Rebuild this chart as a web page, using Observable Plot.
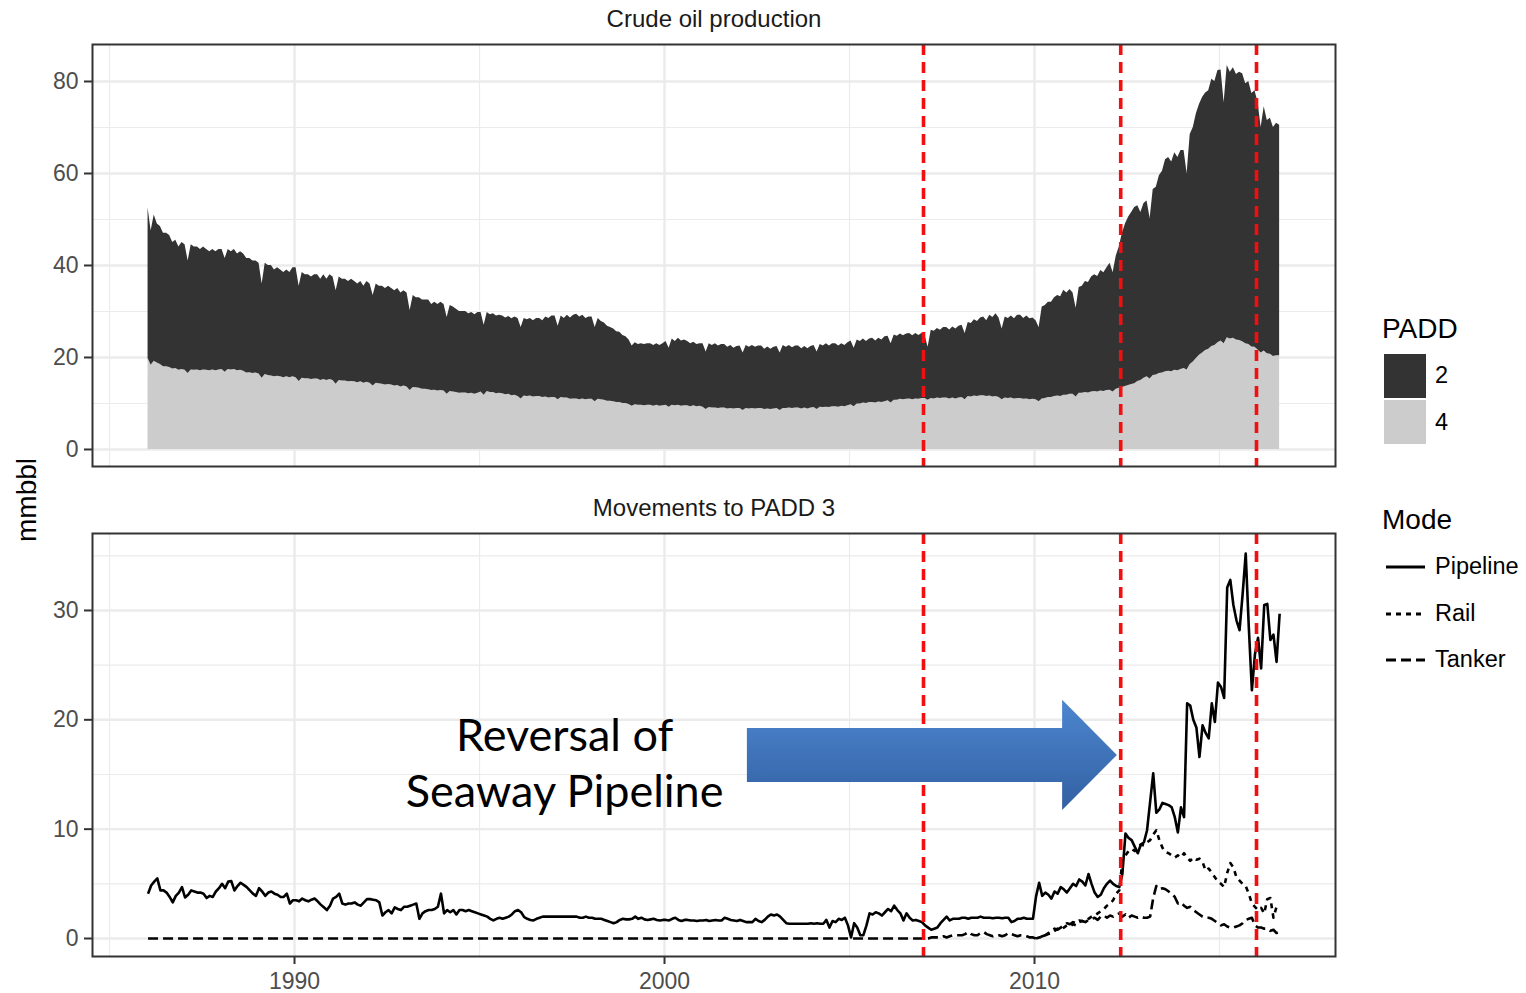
<!DOCTYPE html>
<html><head><meta charset="utf-8">
<script src="https://cdn.jsdelivr.net/npm/d3@7"></script>
<script src="https://cdn.jsdelivr.net/npm/@observablehq/plot@0.6"></script>
<style>
html,body{margin:0;padding:0;background:#fff;}
#wrap{position:relative;width:1526px;height:993px;overflow:hidden;font-family:"Liberation Sans",Arial,sans-serif;}
#wrap svg{position:absolute;left:0;}
.t{position:absolute;line-height:1;white-space:nowrap;color:#000;}
</style></head><body><div id="wrap"></div>
<script>
// ---------- data (monthly, starting Jan 1986) ----------
const startYear = 1986;
const padd2 = [
/*1986*/32.7,29.2,31.8,30.2,30.0,29.0,29.0,28.7,27.5,27.9,26.8,27.6,
/*1987*/27.3,24.5,27.2,26.8,26.7,26.4,26.7,26.3,25.9,26.2,25.9,26.2,
/*1988*/26.1,24.7,26.1,25.7,26.1,25.4,25.8,25.5,24.9,24.8,24.5,24.4,
/*1989*/24.1,20.5,24.2,23.9,24.0,23.2,23.6,23.2,22.9,23.2,22.9,23.7,
/*1990*/23.9,20.7,23.0,22.6,22.6,22.3,22.7,22.7,22.0,22.8,22.0,22.8,
/*1991*/22.5,20.3,22.5,22.1,22.1,21.8,22.2,21.8,21.5,21.8,21.1,21.9,
/*1992*/21.6,19.7,21.6,21.2,21.3,21.0,21.4,21.0,20.7,21.1,20.4,20.7,
/*1993*/20.4,17.4,20.0,19.6,19.7,19.4,19.4,19.5,18.7,19.1,18.8,19.2,
/*1994*/18.8,16.7,18.7,18.5,18.1,17.8,17.7,17.7,17.4,17.6,17.3,17.6,
/*1995*/17.3,15.2,17.2,16.9,17.1,16.9,17.0,16.9,16.7,16.9,16.7,17.0,
/*1996*/17.0,15.5,16.9,16.7,16.9,16.6,17.0,17.0,16.7,17.4,17.3,17.7,
/*1997*/17.7,16.0,17.7,17.3,18.0,17.7,18.2,18.4,18.0,18.2,17.7,17.9,
/*1998*/17.9,16.1,17.6,17.0,16.8,16.3,16.0,15.8,15.4,15.3,14.8,14.5,
/*1999*/14.0,13.1,13.5,13.2,13.4,13.3,13.4,13.4,13.2,13.4,13.2,13.5,
/*2000*/13.9,12.8,14.4,14.0,14.6,14.2,14.3,14.0,13.7,13.8,13.5,13.6,
/*2001*/13.8,12.5,13.9,13.6,14.0,13.6,13.8,13.8,13.4,13.7,13.2,13.5,
/*2002*/13.6,12.5,13.7,13.4,13.7,13.4,13.6,13.6,13.1,13.5,13.1,13.4,
/*2003*/13.5,12.5,13.7,13.3,13.6,13.2,13.5,13.5,13.1,13.4,13.1,13.4,
/*2004*/13.5,12.5,13.6,13.4,13.8,13.4,13.7,13.7,13.3,13.6,13.3,13.7,
/*2005*/13.9,12.7,13.9,13.6,13.9,13.5,13.8,14.0,13.5,13.9,13.6,14.1,
/*2006*/14.0,12.9,14.2,13.9,14.2,13.9,14.2,14.2,13.9,14.2,13.9,14.1,
/*2007*/13.7,11.5,14.8,14.7,15.1,14.8,15.3,15.3,15.0,15.4,15.2,15.6,
/*2008*/15.7,14.4,16.1,16.0,16.6,16.3,16.9,17.1,16.5,17.6,17.3,18.0,
/*2009*/17.3,15.4,17.6,17.4,17.8,17.4,18.1,18.1,17.6,18.0,17.6,17.7,
/*2010*/17.2,16.1,20.0,20.2,20.7,20.7,21.5,21.9,21.7,22.8,22.2,22.8,
/*2011*/22.0,19.3,23.0,23.3,24.1,24.0,25.0,25.4,25.1,26.2,25.8,26.7,
/*2012*/27.6,26.0,28.9,30.7,33.5,35.3,36.6,37.4,38.3,38.2,36.5,38.0,
/*2013*/38.2,34.9,40.4,40.8,43.0,43.9,46.1,46.5,45.6,47.3,46.4,47.6,
/*2014*/47.4,42.7,50.0,51.0,53.2,54.5,55.5,56.0,56.2,58.1,57.4,59.2,
/*2015*/58.9,52.4,59.2,58.0,58.8,57.7,58.3,58.3,56.5,57.2,55.1,55.8,
/*2016*/53.9,49.0,53.1,50.7,51.3,49.8,50.5,50.1
];
const padd4 = [
/*1986*/19.8,18.3,19.2,18.8,18.5,18.0,18.0,17.8,17.5,17.6,17.2,17.4,
/*1987*/17.2,16.5,17.3,17.2,17.3,17.1,17.3,17.2,17.1,17.3,17.1,17.3,
/*1988*/17.4,16.8,17.4,17.3,17.4,17.1,17.2,17.0,16.6,16.7,16.5,16.6,
/*1989*/16.4,15.5,16.3,16.1,16.0,15.8,15.9,15.8,15.6,15.8,15.6,15.8,
/*1990*/15.6,14.8,15.5,15.4,15.4,15.2,15.3,15.3,15.0,15.2,15.0,15.2,
/*1991*/15.0,14.2,15.0,14.9,14.9,14.7,14.8,14.7,14.5,14.7,14.4,14.6,
/*1992*/14.4,13.8,14.4,14.3,14.2,14.0,14.1,14.0,13.8,13.9,13.6,13.8,
/*1993*/13.6,12.8,13.5,13.4,13.3,13.1,13.1,13.0,12.8,12.9,12.7,12.8,
/*1994*/12.7,12.0,12.6,12.5,12.4,12.2,12.3,12.3,12.1,12.2,12.0,12.2,
/*1995*/12.5,11.8,12.6,12.4,12.4,12.1,12.2,12.1,11.9,12.0,11.7,11.8,
/*1996*/11.5,11.0,11.6,11.5,11.6,11.4,11.5,11.5,11.3,11.4,11.2,11.3,
/*1997*/11.3,10.8,11.3,11.2,11.2,10.9,11.0,11.0,10.8,11.0,10.8,10.9,
/*1998*/10.9,10.4,10.9,10.8,10.7,10.5,10.5,10.4,10.2,10.2,10.0,10.0,
/*1999*/9.8,9.4,9.7,9.6,9.6,9.5,9.6,9.6,9.4,9.6,9.4,9.5,
/*2000*/9.6,9.2,9.6,9.5,9.6,9.4,9.5,9.5,9.3,9.5,9.3,9.4,
/*2001*/9.2,8.7,9.1,9.0,9.0,8.9,9.0,9.0,8.8,8.9,8.8,8.9,
/*2002*/8.9,8.5,8.9,8.8,8.9,8.8,8.9,8.9,8.7,8.8,8.7,8.8,
/*2003*/8.9,8.5,8.9,8.9,9.0,8.9,9.0,9.0,8.8,9.0,8.8,9.0,
/*2004*/9.1,8.7,9.2,9.1,9.2,9.1,9.3,9.3,9.2,9.4,9.3,9.5,
/*2005*/9.7,9.3,9.9,9.9,10.1,10.0,10.2,10.2,10.1,10.3,10.2,10.4,
/*2006*/10.6,10.1,10.7,10.7,10.9,10.8,10.9,11.0,10.8,11.0,10.9,11.1,
/*2007*/11.1,10.7,11.1,11.0,11.2,11.1,11.2,11.2,11.0,11.2,11.0,11.2,
/*2008*/11.3,10.8,11.5,11.4,11.6,11.5,11.7,11.7,11.5,11.6,11.4,11.5,
/*2009*/11.3,10.8,11.2,11.1,11.2,11.0,11.1,11.1,10.9,11.0,10.8,10.9,
/*2010*/10.8,10.4,11.0,11.1,11.3,11.3,11.5,11.6,11.5,11.8,11.8,12.0,
/*2011*/12.0,11.4,12.2,12.2,12.4,12.3,12.5,12.6,12.5,12.7,12.6,12.8,
/*2012*/12.9,12.5,13.1,13.3,13.5,13.7,13.9,14.1,14.3,14.8,15.0,15.5,
/*2013*/15.8,15.3,16.1,16.2,16.5,16.6,16.9,17.0,16.9,17.2,17.1,17.4,
/*2014*/17.6,17.3,18.5,19.0,19.8,20.5,21.0,21.5,21.8,22.4,22.6,23.2,
/*2015*/23.6,23.0,24.3,24.0,24.2,23.8,23.7,23.4,23.0,22.8,22.3,22.2,
/*2016*/21.6,21.0,21.4,20.8,20.7,20.2,20.4,20.4
];
const pipeline = [
/*1986*/4.1,4.85,5.2,5.5,4.4,4.4,4.2,3.8,3.3,3.9,4.2,4.7,
/*1987*/3.75,4.0,4.4,4.3,4.2,4.2,4.1,3.7,3.9,3.8,4.3,4.6,
/*1988*/5.0,4.6,5.2,5.25,4.4,4.8,5.1,4.9,4.7,4.4,4.1,3.9,
/*1989*/4.6,4.3,3.9,4.2,4.3,4.1,4.0,3.8,3.8,4.1,3.2,3.5,
/*1990*/3.5,3.4,3.65,3.5,3.4,3.55,3.65,3.4,3.1,2.85,2.6,3.0,
/*1991*/3.65,3.8,4.1,3.2,3.1,3.2,3.2,3.3,3.1,3.0,3.3,3.6,
/*1992*/3.6,3.55,3.5,3.3,2.1,2.4,2.6,2.3,2.85,2.7,2.6,2.9,
/*1993*/2.9,3.0,3.1,3.2,1.8,2.3,2.5,2.6,2.6,2.7,2.9,4.1,
/*1994*/2.3,2.6,2.4,2.6,2.2,2.6,2.6,2.5,2.6,2.5,2.4,2.3,
/*1995*/2.2,2.1,2.0,1.8,1.65,1.8,1.9,1.8,1.9,2.0,2.2,2.5,
/*1996*/2.6,2.4,1.95,1.8,1.7,1.65,1.8,1.9,2.0,2.0,2.0,2.0,
/*1997*/2.0,2.0,2.0,2.0,2.0,2.0,2.0,2.0,1.9,1.9,2.0,1.9,
/*1998*/1.9,1.8,1.8,1.8,1.7,1.6,1.5,1.4,1.5,1.7,1.8,1.75,
/*1999*/1.75,1.8,2.0,1.8,1.9,1.75,1.7,1.75,1.8,1.7,1.65,1.7,
/*2000*/1.7,1.65,1.8,1.9,1.7,1.6,1.7,1.7,1.65,1.65,1.6,1.65,
/*2001*/1.65,1.7,1.6,1.65,1.7,1.65,1.65,1.9,1.8,1.7,1.65,1.6,
/*2002*/1.7,1.6,1.5,1.5,1.5,1.8,1.6,1.5,1.7,2.0,2.2,2.1,
/*2003*/2.2,2.0,1.7,1.4,1.35,1.35,1.35,1.35,1.35,1.35,1.35,1.4,
/*2004*/1.35,1.4,1.35,1.35,1.7,1.0,1.6,1.5,1.8,1.7,1.9,1.2,
/*2005*/0.1,1.4,1.0,0.3,0.3,1.2,2.3,2.2,2.4,2.3,2.1,2.4,
/*2006*/2.7,2.5,3.0,2.6,2.3,1.65,2.3,1.9,1.65,1.7,1.6,1.5,
/*2007*/1.2,1.0,0.8,0.9,1.0,1.4,1.7,2.0,1.65,1.8,1.8,1.8,
/*2008*/1.9,1.9,1.8,1.9,1.9,1.9,2.0,1.9,1.9,1.9,1.85,1.9,
/*2009*/1.9,1.85,1.9,1.9,1.5,1.6,1.8,1.8,1.9,1.8,1.8,1.8,
/*2010*/3.85,5.1,3.9,4.2,4.0,3.65,4.3,4.1,4.7,4.5,4.2,4.6,
/*2011*/5.0,4.8,5.4,5.2,4.85,5.9,5.0,4.2,3.8,4.0,4.6,5.0,
/*2012*/5.3,5.0,4.8,4.7,5.9,9.6,9.2,9.0,8.4,7.8,8.6,8.8,
/*2013*/9.9,12.5,15.1,11.5,11.8,12.4,12.3,12.2,12.0,11.1,9.7,12.0,
/*2014*/11.1,21.5,21.3,20.0,19.3,16.6,19.5,18.8,18.3,21.5,19.8,23.4,
/*2015*/23.0,22.0,32.1,32.8,30.5,29.1,28.2,31.5,35.2,28.5,22.7,26.0,
/*2016*/27.5,24.7,30.5,30.6,27.3,27.8,25.3,29.7
];
const railStart = 2010;
const rail = [
/*2010*/0.0,0.1,0.1,0.3,0.4,0.5,0.7,0.9,0.8,1.0,1.2,1.1,
/*2011*/1.3,1.2,1.5,1.6,1.5,1.8,2.0,2.1,2.3,2.5,2.7,3.0,
/*2012*/3.2,3.5,4.1,4.4,7.1,7.6,8.0,8.2,8.0,8.3,8.6,8.5,
/*2013*/8.8,9.0,9.5,9.9,9.0,8.3,7.9,7.8,7.6,7.4,7.6,7.4,
/*2014*/7.8,7.4,7.1,7.4,7.2,7.3,7.0,6.2,6.4,6.0,5.6,5.2,
/*2015*/5.0,4.7,6.0,6.9,6.5,5.6,5.3,5.0,4.8,4.1,3.2,2.9,
/*2016*/2.6,2.8,2.3,3.6,3.7,1.9,2.9,2.8
];
const tankerStart = 2007;      // zero from Jan 1986 until then
const tanker = [
/*2007*/0,0,0.1,0.1,0.1,0.1,0.2,0.1,0.2,0.3,0.3,0.3,
/*2008*/0.3,0.4,0.6,0.4,0.3,0.3,0.5,0.6,0.4,0.3,0.2,0.3,
/*2009*/0.3,0.2,0.3,0.5,0.4,0.3,0.2,0.3,0.3,0.2,0.1,0.1,
/*2010*/0.0,0.1,0.2,0.3,0.5,0.7,0.9,0.8,1.0,1.2,1.4,1.3,
/*2011*/1.5,1.4,1.65,1.6,1.5,1.7,1.8,1.9,1.7,2.0,2.1,1.9,
/*2012*/2.1,2.0,2.2,2.3,2.0,2.2,1.9,2.1,2.0,1.9,2.0,1.9,
/*2013*/1.9,2.0,3.7,4.8,4.5,4.6,4.5,4.3,4.1,3.8,3.2,3.3,
/*2014*/3.0,2.8,2.9,2.6,2.4,2.2,2.0,1.9,1.9,1.8,1.6,1.4,
/*2015*/1.2,1.3,1.1,1.0,1.0,1.1,1.2,1.4,1.7,1.8,1.9,1.2,
/*2016*/1.0,1.0,0.9,0.9,0.7,0.8,0.5,0.6
];
const events = [2007.0, 2012.33, 2016.0];
const facetTitles = ["Crude oil production", "Movements to PADD 3"];
const paddKeys = ["2", "4"];
const modeKeys = ["Pipeline", "Rail", "Tanker"];
const xTicks = [1990, 2000, 2010];
const xMinor = [1985, 1995, 2005, 2015];
const yTicksTop = [0, 20, 40, 60, 80];
const yMinorTop = [10, 30, 50, 70];
const yTicksBottom = [0, 10, 20, 30];
const yMinorBottom = [5, 15, 25, 35];
const yTitle = "mmbbl";
const annotationText = "Reversal of\nSeaway Pipeline";
// annotation anchor (years / mmbbl)
const noteAt = {x: 1997.3, y: 16.23};
const arrowGeom = {tail: 2002.24, neck: 2010.76, tip: 2012.24, shaftLo: 14.27, shaftHi: 19.2, headLo: 11.71, headHi: 21.78};

// ---------- tables ----------
const mt = (y0, i) => y0 + (i + 0.5) / 12;
const prod = [];
padd4.forEach((v, i) => prod.push({t: mt(startYear, i), padd: "4", v}));
padd2.forEach((v, i) => prod.push({t: mt(startYear, i), padd: "2", v}));
const pipeRows = pipeline.map((v, i) => ({t: mt(startYear, i), v}));
const railRows = rail.map((v, i) => ({t: mt(railStart, i), v}));
const tankerRows = [{t: mt(startYear, 0), v: 0}].concat(tanker.map((v, i) => ({t: mt(tankerStart, i), v})));
const midShaft = (arrowGeom.shaftLo + arrowGeom.shaftHi) / 2;
const arrowRows = [
  {x: arrowGeom.tail, lo: arrowGeom.shaftLo, hi: arrowGeom.shaftHi},
  {x: arrowGeom.neck, lo: arrowGeom.shaftLo, hi: arrowGeom.shaftHi},
  {x: arrowGeom.neck, lo: arrowGeom.headLo, hi: arrowGeom.headHi},
  {x: arrowGeom.tip, lo: midShaft, hi: midShaft}
];

// ---------- styles ----------
const W = 1526, ML = 92, MR = 1526 - 1335;
const xDomain = [1984.54, 2018.135];
const GRID = "#ebebeb", RED = "#f20f0f";
const FONT = "Liberation Sans, Arial, sans-serif";
const gridMarks = (yMajor, yMinor) => [
  Plot.gridX(xMinor, {stroke: GRID, strokeOpacity: 1, strokeWidth: 1.2}),
  Plot.gridY(yMinor, {stroke: GRID, strokeOpacity: 1, strokeWidth: 1.2}),
  Plot.gridX(xTicks, {stroke: GRID, strokeOpacity: 1, strokeWidth: 2.4}),
  Plot.gridY(yMajor, {stroke: GRID, strokeOpacity: 1, strokeWidth: 2.4})
];
const yAxis = (ticks) => Plot.axisY(ticks, {tickSize: 8, tickPadding: 6, fontSize: 23, fill: "#4d4d4d", stroke: "#333", strokeWidth: 2, label: null, tickFormat: d => String(d)});
const eventRules = Plot.ruleX(events, {stroke: RED, strokeWidth: 3.6, strokeDasharray: "11,7"});
const strip = (s) => Plot.text([s], {frameAnchor: "top", dy: -25, lineAnchor: "middle", fontSize: 24, fill: "#1a1a1a", text: d => d});
const frame = Plot.frame({stroke: "#333", strokeWidth: 2});

const topPlot = Plot.plot({
  width: W, height: 480, marginLeft: ML, marginRight: MR, marginTop: 44, marginBottom: 14,
  style: {fontFamily: FONT, background: "transparent"},
  x: {domain: xDomain, axis: null},
  y: {domain: [-3.70, 88.04], label: null},
  color: {domain: paddKeys, range: ["#333333", "#cccccc"]},
  marks: [
    ...gridMarks(yTicksTop, yMinorTop),
    Plot.areaY(prod, {x: "t", y: "v", z: "padd", fill: "padd", order: ["4", "2"], curve: "linear"}),
    eventRules,
    yAxis(yTicksTop),
    strip(facetTitles[0]),
    frame
  ]
});
topPlot.style.top = "0px";

const gradDefs = () => {
  const ns = "http://www.w3.org/2000/svg";
  const defs = document.createElementNS(ns, "defs");
  defs.innerHTML = '<linearGradient id="arrowGrad" x1="0" y1="0" x2="0" y2="1"><stop offset="0" stop-color="#4c86cf"/><stop offset="1" stop-color="#3260a2"/></linearGradient>';
  return defs;
};

const bottomPlot = Plot.plot({
  width: W, height: 513, marginLeft: ML, marginRight: MR, marginTop: 53, marginBottom: 37,
  style: {fontFamily: FONT, background: "transparent"},
  x: {domain: xDomain, label: null},
  y: {domain: [-1.646, 37.04], label: null},
  marks: [
    gradDefs,
    ...gridMarks(yTicksBottom, yMinorBottom),
    Plot.lineY(tankerRows, {x: "t", y: "v", stroke: "#000", strokeWidth: 2.6, strokeDasharray: "10,5", strokeLinecap: "butt", curve: "linear"}),
    Plot.lineY(railRows, {x: "t", y: "v", stroke: "#000", strokeWidth: 2.6, strokeDasharray: "5,5", strokeLinecap: "butt", curve: "linear"}),
    Plot.lineY(pipeRows, {x: "t", y: "v", stroke: "#000", strokeWidth: 2.6, strokeLinecap: "butt", curve: "linear"}),
    eventRules,
    Plot.areaY(arrowRows, {x: "x", y1: "lo", y2: "hi", fill: "url(#arrowGrad)", curve: "linear"}),
    Plot.text([annotationText], {x: noteAt.x, y: noteAt.y, text: d => d, fontSize: 45, lineHeight: 1.244, fontFamily: "Lato, 'Open Sans', sans-serif", fill: "#000", textAnchor: "middle"}),
    yAxis(yTicksBottom),
    Plot.axisX(xTicks, {tickSize: 8, tickPadding: 8, fontSize: 23, fill: "#4d4d4d", stroke: "#333", strokeWidth: 2, label: null, tickFormat: d => String(d)}),
    strip(facetTitles[1]),
    frame
  ]
});
bottomPlot.style.top = "480px";

const wrap = document.getElementById("wrap");
wrap.appendChild(topPlot);
wrap.appendChild(bottomPlot);

// ---------- y title ----------
const yt = document.createElement("div");
yt.className = "t";
yt.textContent = yTitle;
yt.style.cssText += "font-size:28px;left:27px;top:500px;transform:translate(-50%,-50%) rotate(-90deg);";
wrap.appendChild(yt);

// ---------- legends ----------
function addText(txt, left, center, fs) {
  const d = document.createElement("div");
  d.className = "t";
  d.textContent = txt;
  d.style.left = left + "px";
  d.style.top = (center - 0.49 * fs) + "px";
  d.style.fontSize = fs + "px";
  wrap.appendChild(d);
}
addText("PADD", 1382, 328.5, 28);
const swFill = {"2": "#333333", "4": "#cccccc"};
paddKeys.forEach((k, i) => {
  const s = document.createElement("div");
  s.style.cssText = `position:absolute;left:1384px;top:${354 + i * 46}px;width:42px;height:44px;background:${swFill[k]};`;
  wrap.appendChild(s);
  addText(k, 1435, 376 + i * 47, 23.5);
});
addText("Mode", 1382, 519.5, 28);
const dash = {Pipeline: null, Rail: "5,5", Tanker: "10,5"};
modeKeys.forEach((k, i) => {
  const cy = 567 + i * 46.5;
  const ns = "http://www.w3.org/2000/svg";
  const svg = document.createElementNS(ns, "svg");
  svg.setAttribute("width", 42); svg.setAttribute("height", 10);
  svg.style.cssText = `position:absolute;left:1384px;top:${cy - 5}px;`;
  const ln = document.createElementNS(ns, "line");
  ln.setAttribute("x1", 2); ln.setAttribute("x2", 41); ln.setAttribute("y1", 5); ln.setAttribute("y2", 5);
  ln.setAttribute("stroke", "#000"); ln.setAttribute("stroke-width", 2.8);
  if (dash[k]) ln.setAttribute("stroke-dasharray", dash[k]);
  svg.appendChild(ln);
  wrap.appendChild(svg);
  addText(k, 1435, cy, 23.5);
});
</script></body></html>
